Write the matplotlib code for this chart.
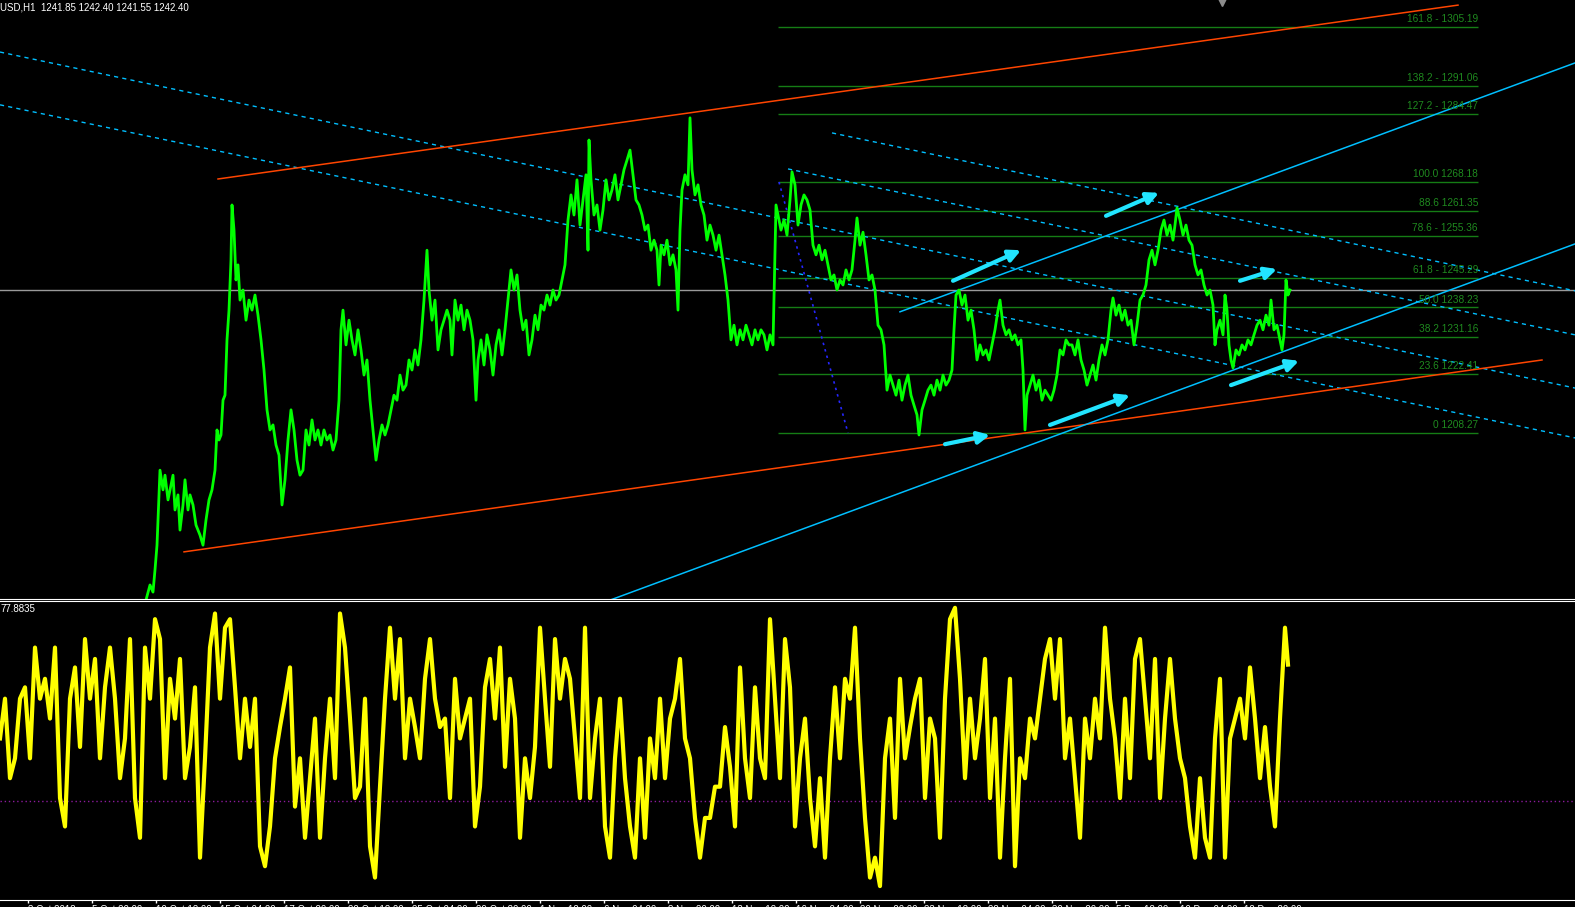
import numpy as np
import matplotlib
matplotlib.use("Agg")
import matplotlib.pyplot as plt

# ---- chart data (bar index, price) ----
header = "USD,H1  1241.85 1242.40 1241.55 1242.40"
last_close = 1242.40
rsi_label = "77.8835"

price_bars = [
    146, 150, 153, 155, 157, 160, 163, 165, 168, 170, 173, 175, 178, 180, 183, 185, 188, 190, 193, 196,
    200, 203, 206, 209, 212, 215, 217, 219, 221, 223, 225, 227, 229, 231, 232, 234, 236, 238, 240, 243,
    246, 249, 252, 255, 258, 261, 264, 267, 270, 273, 276, 279, 282, 285, 288, 291, 294, 297, 300, 303,
    306, 309, 312, 315, 318, 321, 324, 327, 330, 333, 336, 339, 341, 343, 346, 349, 352, 355, 358, 361,
    364, 367, 370, 373, 376, 379, 382, 385, 388, 391, 394, 397, 400, 403, 406, 409, 412, 415, 418, 421,
    424, 427, 429, 432, 435, 438,
    441, 444, 447, 450, 452, 455, 458, 461, 464, 467, 470, 473, 476, 478, 481, 484, 487, 490, 493, 496,
    499, 502, 505, 508, 511, 514, 517, 520, 523, 526, 529, 532, 535, 538, 541, 544, 547, 550, 553, 556,
    559, 562, 565, 568, 571, 574, 577, 580, 583, 586, 588, 589, 591, 594, 597, 600, 603, 606, 609, 612,
    615, 618, 621, 624, 627, 630, 633, 636, 639, 642, 645, 648, 651, 654, 657, 659, 661, 664, 667, 670,
    673, 676, 678, 680, 682, 685, 688, 690, 692, 695, 698, 701, 704, 707, 710, 713, 716, 719, 722, 725,
    728, 731, 734, 737, 740, 743, 746, 749, 752, 755, 758, 761, 764, 767, 770, 773, 776,
    778, 781, 784, 787, 790, 792, 795, 798, 801, 804, 807, 810, 813, 816, 819, 822, 825, 828, 831, 834,
    837, 840, 843, 846, 849, 852, 855, 857, 860, 863, 866, 869, 872, 875, 878, 881, 884, 887, 890, 893,
    896, 899, 902, 905, 908, 911, 914, 917, 919, 922, 925, 928, 931, 934, 937, 940, 943, 946, 949, 952,
    954, 956, 959, 962, 965, 968, 971, 974, 977, 980, 983, 986, 989, 992, 995, 998, 1000, 1003, 1006, 1009,
    1012, 1015, 1018, 1021, 1023, 1025, 1027, 1030, 1033, 1036, 1039, 1042, 1045, 1048, 1051, 1054, 1057, 1060, 1063, 1066,
    1069,
    1072, 1075, 1078, 1081, 1084, 1087, 1090, 1093, 1096, 1099, 1102, 1105, 1108, 1111, 1113, 1116, 1119, 1122, 1125, 1128,
    1131, 1134, 1137, 1140, 1143, 1146, 1149, 1152, 1155, 1158, 1161, 1164, 1167, 1170, 1173, 1175, 1177, 1180, 1183, 1186,
    1189, 1192, 1195, 1198, 1201, 1204, 1207, 1210, 1213, 1215, 1217, 1220, 1223, 1225, 1227, 1229, 1231, 1233, 1236, 1239,
    1242, 1245, 1248, 1251, 1254, 1257, 1260, 1263, 1266, 1269, 1271, 1274, 1277, 1280, 1282, 1284, 1286, 1288, 1290,
]
price_close = [
    1168.4, 1172.0, 1170.3, 1175.6, 1181.5, 1199.4, 1194.7, 1198.2, 1192.3, 1194.7, 1198.2, 1189.9, 1193.5, 1185.1, 1191.1, 1197.1, 1189.9, 1193.5, 1191.1, 1186.3,
    1183.9, 1181.5, 1187.5, 1192.3, 1194.7, 1199.4, 1209.0, 1206.6, 1207.8, 1216.1, 1217.3, 1230.5, 1237.6, 1249.6, 1262.7, 1256.7, 1244.8, 1248.4, 1240.0, 1242.4,
    1235.2, 1240.0, 1237.6, 1241.2, 1236.4, 1230.5, 1223.3, 1213.8, 1209.0, 1210.2, 1205.4, 1203.0, 1191.1, 1197.1, 1206.6, 1213.8, 1209.0, 1201.8, 1198.2, 1199.4,
    1209.0, 1205.4, 1211.4, 1206.6, 1209.0, 1205.4, 1209.0, 1206.6, 1207.8, 1204.2, 1206.6, 1216.1, 1232.9, 1237.6, 1229.3, 1235.2, 1230.5, 1226.9, 1232.9, 1228.1,
    1222.1, 1225.7, 1216.1, 1209.0, 1201.8, 1206.6, 1210.2, 1207.8, 1210.2, 1213.8, 1217.3, 1216.1, 1222.1, 1218.5, 1219.7, 1225.7, 1223.3, 1228.1, 1224.5, 1230.5,
    1240.0, 1251.9, 1242.4, 1235.2, 1240.0, 1228.1,
    1232.9, 1235.2, 1237.6, 1235.2, 1226.9, 1240.0, 1235.2, 1238.8, 1232.9, 1237.6, 1235.2, 1230.5, 1216.1, 1225.7, 1230.5, 1224.5, 1231.7, 1228.1, 1222.1, 1229.3,
    1232.9, 1226.9, 1232.9, 1240.0, 1247.2, 1242.4, 1246.0, 1237.6, 1232.9, 1235.2, 1226.9, 1230.5, 1236.4, 1232.9, 1238.8, 1237.6, 1241.2, 1238.8, 1242.4, 1240.0,
    1241.2, 1244.8, 1248.4, 1259.1, 1265.1, 1260.3, 1268.7, 1257.9, 1263.9, 1269.9, 1251.9, 1278.2, 1268.7, 1260.3, 1262.7, 1256.7, 1261.5, 1268.7, 1263.9, 1266.3,
    1269.9, 1263.9, 1267.5, 1271.1, 1273.4, 1275.8, 1269.9, 1263.9, 1262.7, 1260.3, 1256.7, 1257.9, 1251.9, 1254.3, 1251.9, 1243.6, 1253.1, 1250.8, 1254.3, 1248.4,
    1250.8, 1247.2, 1237.6, 1256.7, 1266.3, 1269.9, 1267.5, 1283.5, 1271.1, 1265.1, 1267.5, 1262.7, 1260.3, 1254.3, 1257.9, 1255.5, 1251.9, 1255.5, 1250.8, 1246.0,
    1240.0, 1230.5, 1234.0, 1229.3, 1232.9, 1230.5, 1234.0, 1231.7, 1229.3, 1232.9, 1230.5, 1232.9, 1231.7, 1228.1, 1231.7, 1229.3, 1262.7,
    1260.3, 1256.7, 1259.1, 1255.5, 1263.9, 1270.6, 1267.5, 1257.9, 1262.7, 1265.1, 1263.9, 1261.5, 1253.1, 1250.8, 1253.1, 1249.6, 1251.9, 1248.4, 1244.8, 1246.0,
    1242.4, 1244.8, 1243.6, 1247.2, 1244.8, 1247.2, 1254.3, 1259.6, 1253.1, 1256.2, 1250.8, 1244.8, 1246.0, 1242.4, 1234.0, 1232.9, 1229.3, 1218.5, 1222.1, 1219.7,
    1217.3, 1220.9, 1216.1, 1219.7, 1222.1, 1217.3, 1214.9, 1212.6, 1207.8, 1213.8, 1216.1, 1218.5, 1219.7, 1217.3, 1220.9, 1218.5, 1222.1, 1219.7, 1220.9, 1223.3,
    1232.9, 1241.2, 1242.4, 1238.8, 1241.2, 1235.2, 1237.6, 1232.9, 1225.7, 1229.3, 1226.9, 1228.1, 1225.7, 1229.3, 1232.9, 1237.6, 1240.0, 1234.0, 1231.7, 1232.9,
    1230.5, 1231.7, 1229.3, 1230.5, 1223.3, 1209.0, 1217.3, 1219.7, 1222.1, 1218.5, 1220.9, 1216.1, 1218.5, 1217.3, 1216.1, 1218.5, 1222.1, 1228.1, 1226.9, 1230.5,
    1229.3,
    1229.3, 1226.9, 1230.5, 1225.7, 1223.3, 1219.7, 1222.1, 1224.5, 1220.9, 1225.7, 1229.3, 1226.9, 1230.5, 1237.6, 1240.5, 1236.4, 1238.8, 1235.2, 1237.6, 1234.0,
    1235.2, 1229.3, 1234.0, 1240.0, 1241.2, 1243.6, 1249.6, 1251.9, 1248.4, 1251.9, 1256.7, 1259.1, 1255.5, 1257.9, 1254.3, 1257.9, 1262.0, 1259.1, 1255.5, 1257.9,
    1254.3, 1253.1, 1248.4, 1246.0, 1247.2, 1243.6, 1241.2, 1242.4, 1238.8, 1229.3, 1232.9, 1235.2, 1231.7, 1241.2, 1237.6, 1229.3, 1225.7, 1223.8, 1228.1, 1226.9,
    1229.3, 1228.1, 1230.5, 1229.3, 1231.7, 1234.0, 1235.2, 1232.9, 1236.4, 1234.0, 1240.0, 1232.9, 1234.0, 1230.5, 1228.1, 1231.7, 1244.8, 1241.2, 1242.4,
]

# RSI(14) sampled every 5 bars from bar 0, plus the last bar
rsi_bars = list(range(0, 1286, 5)) + [1288]
rsi_vals = [
    52, 66, 38, 45, 66, 70, 45, 84, 66, 73, 59, 84, 31, 21, 66, 77, 49, 87, 66, 80,
    45, 70, 84, 66, 38, 52, 87, 31, 17, 84, 66, 94, 87, 38, 73, 59, 80, 38, 49, 70,
    10, 45, 84, 96, 66, 91, 94, 70, 45, 66, 49, 66, 14, 7, 21, 45, 56, 66, 77, 28,
    45, 17, 38, 59, 17, 45, 66, 38, 96, 84, 59, 31, 35, 66, 14, 3, 35, 66, 91, 66,
    87, 45, 66, 56, 45, 73, 87, 66, 56, 59, 31, 73, 52, 59, 66, 21, 35, 70, 80, 59,
    84, 42, 73, 59, 17, 45, 31, 49, 91, 66, 42, 87, 66, 80, 73, 52, 31, 91, 31, 52,
    66, 21, 10, 45, 66, 38, 21, 10, 45, 17, 52, 38, 66, 38, 59, 66, 80, 52, 45, 24,
    10, 24, 24, 35, 35, 56, 42, 21, 77, 45, 31, 70, 45, 38, 94, 66, 38, 87, 70, 21,
    45, 59, 31, 14, 38, 10, 45, 70, 45, 73, 66, 91, 52, 24, 3, 10, 0, 45, 59, 24,
    73, 45, 56, 66, 73, 31, 59, 52, 17, 66, 94, 98, 73, 38, 66, 45, 59, 80, 31, 59,
    10, 45, 73, 7, 45, 38, 59, 52, 66, 80, 87, 66, 87, 45, 59, 38, 17, 59, 45, 66,
    52, 91, 66, 52, 31, 66, 38, 80, 87, 66, 45, 80, 31, 59, 80, 59, 45, 38, 21, 10,
    38, 17, 10, 52, 73, 10, 52, 59, 66, 52, 77, 59, 38, 56, 35, 21, 59, 91, 78,
]
rsi_level = 30

# Fibonacci retracement
fib_start_bar, fib_end_bar = 778, 1478
fib_prices = [1305.19, 1291.06, 1284.47, 1268.18, 1261.35, 1255.36, 1245.29, 1238.23, 1231.16, 1222.41, 1208.27]
fib_labels = ["161.8 - 1305.19", "138.2 - 1291.06", "127.2 - 1284.47", "100.0 1268.18", "88.6 1261.35",
              "78.6 - 1255.36", "61.8 - 1245.29", "50.0 1238.23", "38.2 1231.16", "23.6 1222.41", "0 1208.27"]
fib_anchor = [(779, 1268.18), (848, 1208.27)]

# trend lines: ((bar, price), (bar, price))
red_lines = [((218, 1268.9), (1458, 1310.4)), ((184, 1179.9), (1542, 1225.7))]
blue_lines = [((600, 1167.5), (1575, 1253.4)), ((900, 1237.2), (1575, 1296.6))]
dashed_lines = [((0, 1299.2), (1575, 1219.0)), ((0, 1286.6), (1575, 1207.1)),
                ((832, 1279.9), (1575, 1242.2)), ((788, 1271.3), (1575, 1231.7))]
arrows = [((953, 1244.6), (1021, 1251.9)), ((1106, 1260.1), (1159, 1265.6)),
          ((945, 1205.6), (990, 1207.8)), ((1050, 1210.2), (1130, 1217.3)),
          ((1240, 1244.6), (1277, 1247.4)), ((1231, 1219.7), (1299, 1225.5))]
shift_bar = 1222

time_ticks = list(range(28, 1300, 64))
time_labels = ["3 Oct 2018", "5 Oct 20:00", "10 Oct 12:00", "15 Oct 04:00", "17 Oct 20:00",
               "22 Oct 12:00", "25 Oct 04:00", "29 Oct 20:00", "1 Nov 12:00", "6 Nov 04:00",
               "8 Nov 20:00", "13 Nov 12:00", "16 Nov 04:00", "20 Nov 20:00", "23 Nov 12:00",
               "28 Nov 04:00", "30 Nov 20:00", "5 Dec 12:00", "10 Dec 04:00", "12 Dec 20:00"]

# ---- figure ----
W, H = 1575, 907
fig = plt.figure(figsize=(W / 100, H / 100), dpi=100, facecolor="black")
ax = fig.add_axes([0, 1 - 599 / H, 1, 599 / H], facecolor="black")
ax2 = fig.add_axes([0, 1 - 900 / H, 1, 299 / H], facecolor="black")

ax.set_xlim(0, W)
ax.set_ylim(1168.65, 1311.62)
ax2.set_xlim(0, W)
ax2.set_ylim(-4.9, 100.4)

for a in (ax, ax2):
    for s in ("left", "right"):
        a.spines[s].set_visible(False)
    a.set_yticks([])
ax.spines["top"].set_visible(False)
ax.spines["bottom"].set_color("white")
ax.set_xticks([])
ax2.spines["top"].set_color("white")
ax2.spines["bottom"].set_color("white")

# current price line
ax.axhline(last_close, color="#9a9a9a", lw=1)

# fibonacci
ax.hlines(fib_prices, fib_start_bar, fib_end_bar, color="#157d15", lw=1)
for p, lab in zip(fib_prices, fib_labels):
    ax.annotate(lab, (fib_end_bar, p), xytext=(0, 2), textcoords="offset points",
                ha="right", va="bottom", color="#1f8a1f", fontsize=7.3, family="Liberation Sans")
ax.plot([b for b, _ in fib_anchor], [p for _, p in fib_anchor], color="#2626ff", lw=1.2, ls=(0, (1.5, 2.5)))

for (x0, y0), (x1, y1) in dashed_lines:
    ax.plot([x0, x1], [y0, y1], color="#00bfff", lw=1, ls=(0, (3, 3)))
for (x0, y0), (x1, y1) in red_lines:
    ax.plot([x0, x1], [y0, y1], color="#ff4500", lw=1.1)
for (x0, y0), (x1, y1) in blue_lines:
    ax.plot([x0, x1], [y0, y1], color="#00bfff", lw=1.1)

# price
ax.plot(price_bars, price_close, color="#00ff00", lw=2.0)

for (x0, y0), (x1, y1) in arrows:
    ax.annotate("", xy=(x1, y1), xytext=(x0, y0),
                arrowprops=dict(arrowstyle="-|>,head_length=0.7,head_width=0.35",
                                color="#22e4ff", lw=3, shrinkA=0, shrinkB=0))

ax.plot([shift_bar], [1311.62], marker="v", ms=9, color="#8c8c8c", clip_on=False)

fig.text(0.5 / W, 1 - 2 / H, header, color="white", fontsize=7, va="top", ha="left",
         family="Liberation Sans")

# RSI pane
ax2.axhline(rsi_level, color="#8b1a9b", lw=1, ls=(0, (1, 2)))
ax2.plot(rsi_bars, rsi_vals, color="#ffff00", lw=3.0)
fig.text(0.5 / W, 1 - 604 / H, rsi_label, color="white", fontsize=7, va="top", ha="left",
         family="Liberation Sans")

ax2.set_xticks(time_ticks)
ax2.set_xticklabels(time_labels, ha="left", color="white", fontsize=7, family="Liberation Sans")
ax2.tick_params(axis="x", colors="white", length=2.2, width=1, pad=1.5, direction="out")

fig.savefig("out.png", dpi=100, facecolor="black")
